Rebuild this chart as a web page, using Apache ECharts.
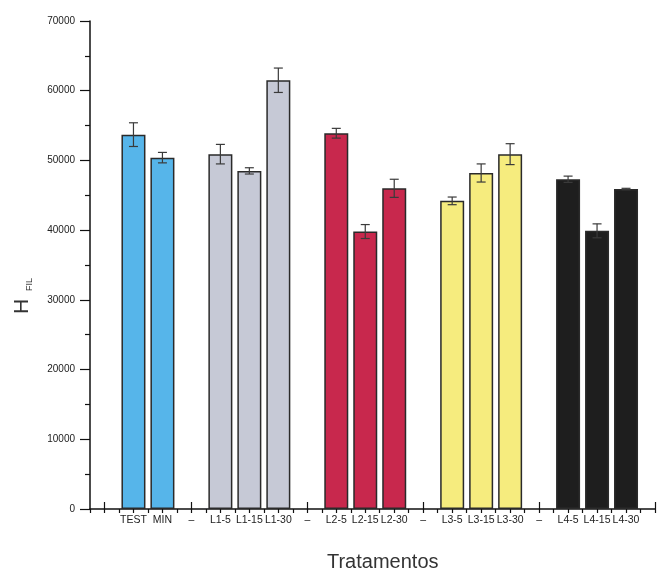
<!DOCTYPE html>
<html lang="en">
	<head>
		<meta charset="UTF-8" />
		<title>HFIL Tratamentos</title>
		<script src="https://cdn.jsdelivr.net/npm/echarts@6/dist/echarts.min.js"></script>
		<style>
			html, body { margin: 0; padding: 0; background: #fff; }
		</style>
	</head>
	<body>
		<div id="myChart" style="width: 667px; height: 577px"></div>

		<script>
			// categories, one per bar slot ("–" slots are empty separators)
			const categories = ["TEST", "MIN", "–", "L1-5", "L1-15", "L1-30", "–", "L2-5", "L2-15", "L2-30", "–", "L3-5", "L3-15", "L3-30", "–", "L4-5", "L4-15", "L4-30"];
			const means = [53700, 50400, null, 50900, 48500, 61500, null, 53900, 39800, 46000, null, 44200, 48200, 50900, null, 47300, 39900, 45900];
			const errors = [1700, 750, null, 1400, 450, 1750, null, 700, 1000, 1300, null, 550, 1300, 1500, null, 450, 1000, 100];
			const yTicks = [0, 10000, 20000, 30000, 40000, 50000, 60000, 70000];

			const groupColors = ["#56b5ea", "#56b5ea", null, "#c6c9d6", "#c6c9d6", "#c6c9d6", null, "#c8284d", "#c8284d", "#c8284d", null, "#f6ec7e", "#f6ec7e", "#f6ec7e", null, "#1e1e1e", "#1e1e1e", "#1e1e1e"];

			const font = "Liberation Sans, Arial, sans-serif";
			const gridLeft = 90, gridRight = 12;
			const unit = (667 - gridLeft - gridRight) / 19.5;

			const barData = [];
			const errData = [];
			categories.forEach((c, i) => {
				if (means[i] == null) return;
				barData.push({
					value: [i + 1, means[i]],
					itemStyle: { color: groupColors[i], borderColor: "#2a2a2a", borderWidth: 1.5 },
				});
				errData.push([i + 1, means[i] - errors[i], means[i] + errors[i]]);
			});

			const myChart = echarts.init(document.getElementById("myChart"));

			const option = {
				backgroundColor: "#fff",
				animation: false,
				// grid 0 holds bars + short half-step ticks, grid 1 (shifted half a slot) holds long ticks and labels
				grid: [
					{ left: gridLeft, right: gridRight, top: 21, bottom: 68 },
					{ left: gridLeft + unit / 2, right: gridRight, top: 21, bottom: 68 },
				],
				xAxis: [
					{
						type: "value",
						gridIndex: 0,
						min: -0.5,
						max: 19,
						interval: 0.5,
						axisLine: { show: true, onZero: false, lineStyle: { color: "#111", width: 1.5 } },
						axisTick: { show: true, length: 4, lineStyle: { color: "#111", width: 1.2 } },
						axisLabel: { show: false },
						splitLine: { show: false },
					},
					{
						type: "value",
						gridIndex: 1,
						position: "bottom",
						min: 0,
						max: 19,
						interval: 1,
						axisLine: { show: false, onZero: false },
						axisTick: { show: true, inside: false, length: 7, lineStyle: { color: "#111", width: 1.2 } },
						axisLabel: {
							margin: 13,
							fontFamily: font,
							fontSize: 10.5,
							color: "#222",
							formatter: (v) => (v >= 1 && v <= categories.length ? categories[v - 1] : ""),
						},
						splitLine: { show: false },
						name: "Tratamentos",
						nameLocation: "middle",
						nameGap: 50,
						nameTextStyle: { fontFamily: font, fontSize: 20, color: "#333", padding: [0, 0, 0, 6] },
					},
				],
				yAxis: [
					{
						type: "value",
						gridIndex: 0,
						min: yTicks[0],
						max: yTicks[yTicks.length - 1],
						interval: 10000,
						axisLine: { show: true, onZero: false, lineStyle: { color: "#111", width: 1.5 } },
						axisTick: { show: true, length: 10, lineStyle: { color: "#111", width: 1.2 } },
						minorTick: { show: true, splitNumber: 2, length: 5, lineStyle: { color: "#111", width: 1.2 } },
						axisLabel: { margin: 15, fontFamily: font, fontSize: 10, color: "#222", formatter: (v) => String(v) },
						splitLine: { show: false },
					},
					{ type: "value", gridIndex: 1, min: 0, max: 70000, show: false },
				],
				graphic: [
					{
						type: "text",
						x: 22,
						y: 296,
						rotation: Math.PI / 2,
						style: {
							text: "{h|H}{s|FIL}",
							align: "center",
							verticalAlign: "middle",
							fill: "#333",
							rich: {
								h: { fontFamily: font, fontSize: 21, fill: "#333", lineHeight: 24 },
								s: { fontFamily: font, fontSize: 9, fill: "#333", verticalAlign: "bottom", lineHeight: 9, padding: [14, 0, 0, 8] },
							},
						},
					},
				],
				series: [
					{
						type: "bar",
						xAxisIndex: 0,
						yAxisIndex: 0,
						barWidth: 24,
						data: barData,
					},
					{
						type: "custom",
						xAxisIndex: 0,
						yAxisIndex: 0,
						z: 5,
						data: errData,
						renderItem: function (params, api) {
							const x = api.value(0);
							const lo = api.coord([x, api.value(1)]);
							const hi = api.coord([x, api.value(2)]);
							const hw = 4.5;
							const style = { stroke: "#3a3a3a", lineWidth: 1.2 };
							return {
								type: "group",
								children: [
									{ type: "line", shape: { x1: hi[0], y1: hi[1], x2: lo[0], y2: lo[1] }, style },
									{ type: "line", shape: { x1: hi[0] - hw, y1: hi[1], x2: hi[0] + hw, y2: hi[1] }, style },
									{ type: "line", shape: { x1: lo[0] - hw, y1: lo[1], x2: lo[0] + hw, y2: lo[1] }, style },
								],
							};
						},
					},
				],
			};

			myChart.setOption(option);

			window.addEventListener("resize", function () {
				myChart.resize();
			});
		</script>
	</body>
</html>
